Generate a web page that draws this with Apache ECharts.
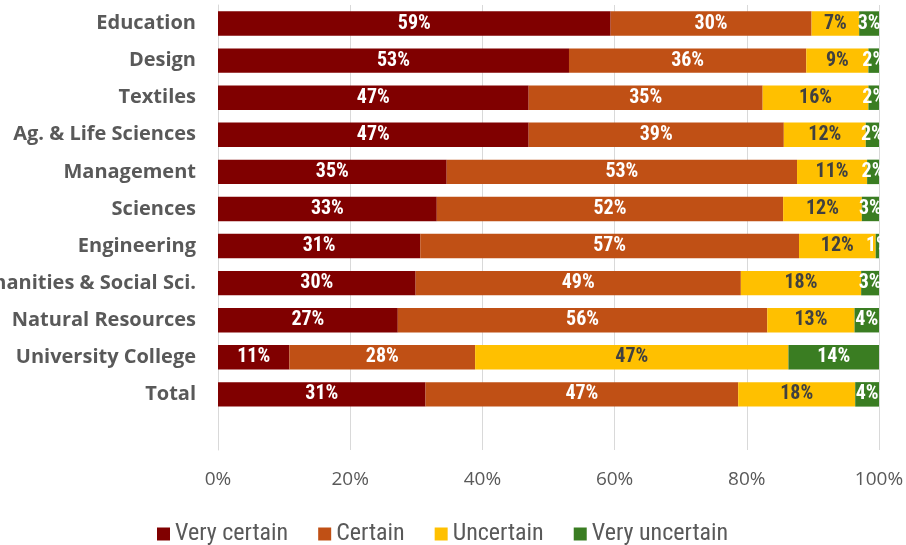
<!DOCTYPE html>
<html>
<head>
<meta charset="utf-8">
<script src="https://cdn.jsdelivr.net/npm/echarts@6/dist/echarts.min.js"></script>
<style>html,body{margin:0;padding:0;background:#fff;}#c{width:906px;height:545px;}</style>
</head>
<body>
<div id="c"></div>
<script>
var categories = ['Education','Design','Textiles','Ag. & Life Sciences','Management','Sciences','Engineering','Humanities & Social Sci.','Natural Resources','University College','Total'];
var veryCertain   = [59.4, 53.1, 47.0, 47.0, 34.6, 33.1, 30.6, 29.9, 27.2, 10.8, 31.4];
var certain       = [30.4, 35.9, 35.4, 38.6, 53.0, 52.4, 57.3, 49.2, 55.9, 28.1, 47.3];
var uncertain     = [7.2, 9.4, 16.0, 12.4, 10.6, 11.9, 11.6, 18.2, 13.2, 47.4, 17.7];
var veryUncertain = [3.0, 1.6, 1.6, 2.0, 1.8, 2.6, 0.6, 2.7, 3.7, 13.7, 3.6];
var xTicks = ['0%','20%','40%','60%','80%','100%'];

var catData = categories.concat(['']);
function pad(a){ return a.concat([null]); }
var narrow = '"Roboto Condensed", "Liberation Sans Narrow", "Arial Narrow", sans-serif';
function mk(name, data, color, labelColor){
  return {
    name: name, type: 'bar', stack: 'all', data: pad(data), barCategoryGap: '34%',
    itemStyle: {color: color},
    label: {show: true, position: 'inside', color: labelColor, fontWeight: 'bold', fontSize: 20, fontFamily: narrow,
      formatter: function(p){ return p.value == null ? '' : Math.round(p.value) + '%'; }}
  };
}
var chart = echarts.init(document.getElementById('c'));
chart.setOption({
  animation: false,
  grid: {left: 218, right: 27, top: 5, bottom: 95, containLabel: false, outerBoundsMode: 'none'},
  legend: {
    bottom: -6, left: 152, itemWidth: 13, itemHeight: 13, itemGap: 30, itemTextGap: 6, icon: 'rect',
    textStyle: {color: '#595959', fontSize: 24, fontFamily: narrow}
  },
  xAxis: {
    type: 'value', min: 0, max: 100, interval: 20,
    axisLine: {show: false}, axisTick: {show: false},
    splitLine: {lineStyle: {color: '#d9d9d9', width: 1}},
    axisLabel: {color: '#595959', fontSize: 19, margin: 20, fontFamily: '"Open Sans", sans-serif',
      formatter: function(v){ return xTicks[Math.round(v/20)]; }}
  },
  yAxis: {
    type: 'category', inverse: true, data: catData,
    axisLine: {show: true, lineStyle: {color: '#d9d9d9'}}, axisTick: {show: false},
    axisLabel: {color: '#595959', fontSize: 20, fontWeight: 'bold', margin: 22, fontFamily: '"Open Sans", sans-serif'}
  },
  series: [
    mk('Very certain', veryCertain, '#800000', '#ffffff'),
    mk('Certain', certain, '#C05015', '#ffffff'),
    mk('Uncertain', uncertain, '#FFC000', '#404040'),
    mk('Very uncertain', veryUncertain, '#3A7D22', '#ffffff')
  ]
});
</script>
</body>
</html>
